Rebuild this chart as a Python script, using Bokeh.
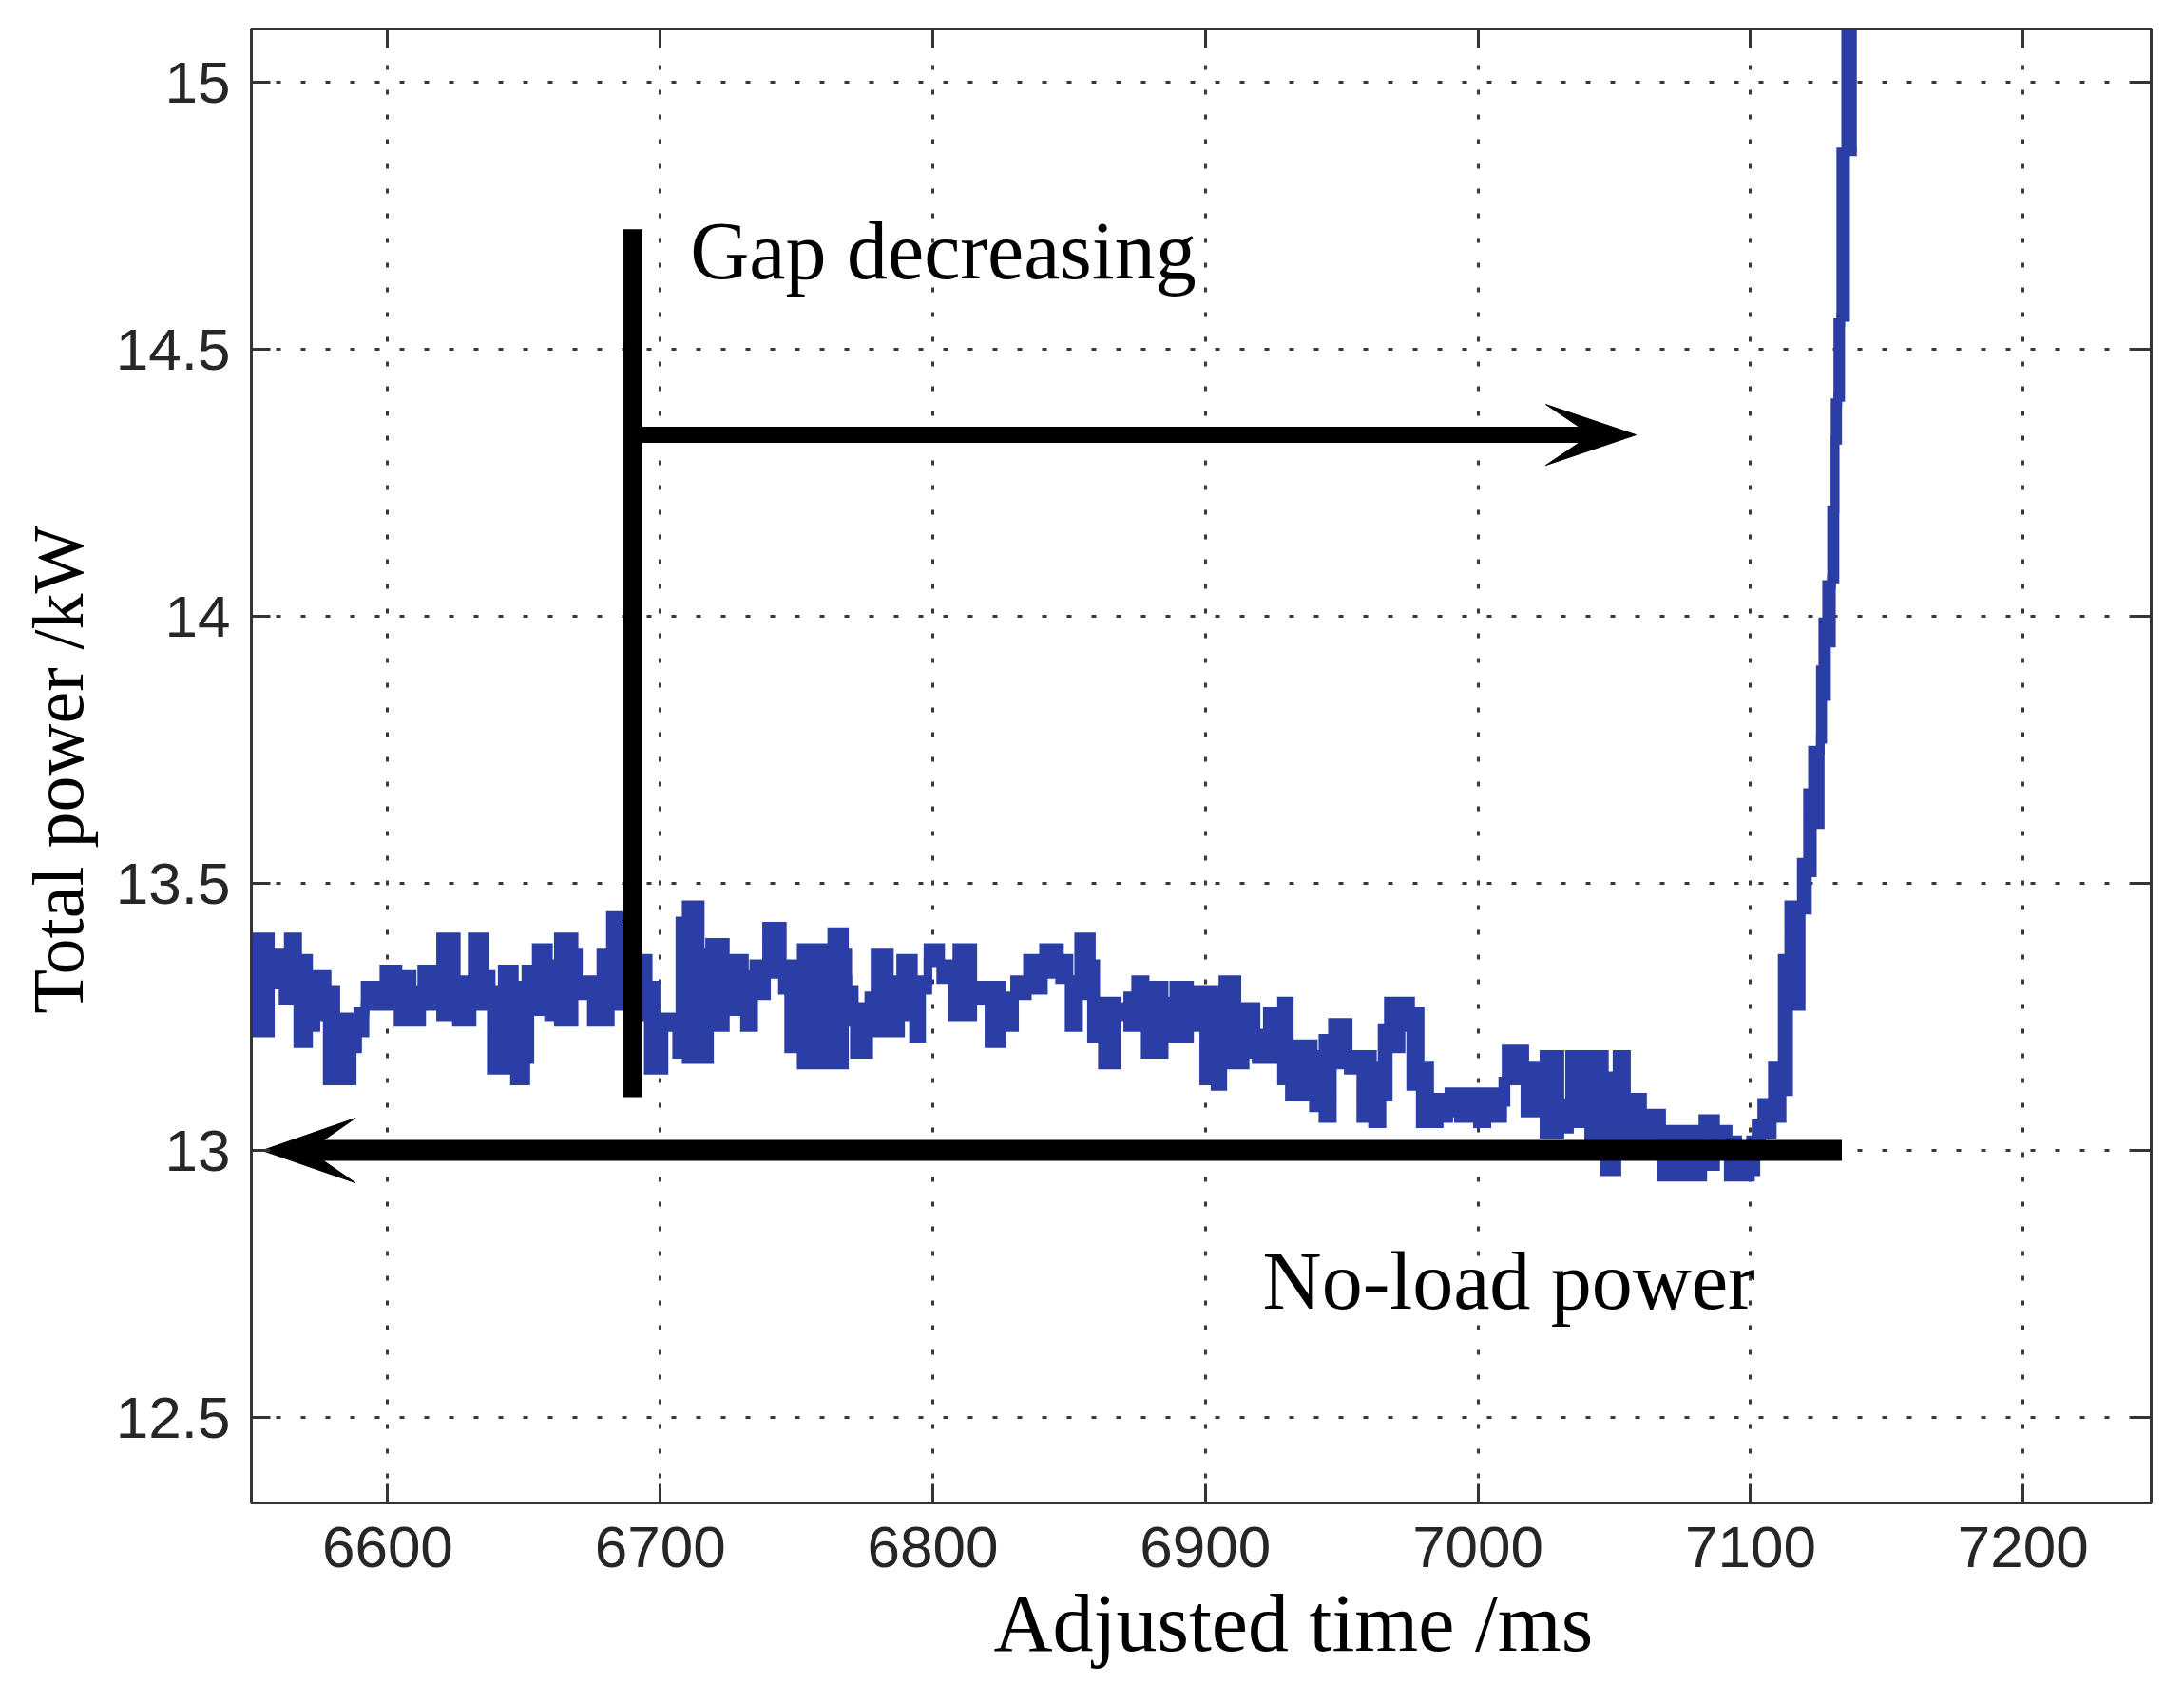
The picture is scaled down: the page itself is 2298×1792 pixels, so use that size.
import numpy as np
from bokeh.plotting import figure
from bokeh.models import Range1d, LinearAxis, FixedTicker, CustomJSTickFormatter, ColumnDataSource, Title
from bokeh.core.properties import value
from bokeh.embed import file_html
from bokeh.resources import INLINE

# ---------------- data ----------------
# adjusted time (ms) where each step of the trace starts
time_ms = [
    6548, 6557, 6561.6, 6563.5, 6567, 6571, 6573.7, 6577.8, 6581, 6587, 6589, 6591.7,
    6598.6, 6603.8, 6609, 6612.5, 6619.4, 6625.2, 6631, 6635.6, 6638, 6642, 6646.5,
    6650.7, 6652.2, 6654.5, 6659, 6662.6, 6668.4, 6670, 6674.7, 6678.2, 6681.7, 6684.6,
    6691.8, 6695.6, 6698.5, 6701.4, 6706, 6707.2, 6709.5, 6714.7, 6718.1, 6723.9,
    6726.8, 6730.9, 6734.3, 6739, 6744.8, 6747.1, 6751.7, 6758.2, 6762.9, 6767.6,
    6768.8, 6771.2, 6776.5, 6778.8, 6784.1, 6788.2, 6792.9, 6795.9, 6798.2, 6802.9,
    6807.1, 6808.8, 6814.7, 6820.6, 6825.3, 6830, 6834.7, 6840.6, 6846.5, 6850,
    6853.5, 6858.2, 6859.8, 6862.2, 6867.4, 6871.5, 6874.4, 6877.9, 6884.9, 6888.4,
    6894.2, 6899.4, 6903.5, 6906.4, 6911.6, 6914.6, 6918.6, 6922.7, 6927.9, 6930.8,
    6939.6, 6943.1, 6946.6, 6952.4, 6957, 6961.3, 6964.8, 6967.1, 6971.8, 6975.3,
    6978.8, 6982.3, 6985.8, 6989.3, 6992.8, 6999.8, 7003.3, 7009.1, 7010.3, 7017.2,
    7021.9, 7024.2, 7030.1, 7033.6, 7040.6, 7046.4, 7051, 7054.5, 7060.4, 7067.4,
    7075.5, 7082.5, 7087.2, 7091.8, 7095.3, 7100, 7102, 7104.1, 7108, 7111.6, 7114,
    7118.6, 7120.9, 7122.7, 7125.6, 7126.5, 7127.9, 7129.7, 7131, 7132, 7133.1, 7134.9,
    7139,
]
# upper edge of the noisy power trace (kW)
power_hi = [
    13.40, 13.37, 13.36, 13.40, 13.36, 13.28, 13.33, 13.30, 13.25, 13.25, 13.26, 13.31,
    13.34, 13.33, 13.30, 13.34, 13.40, 13.32, 13.40, 13.33, 13.30, 13.34, 13.31,
    13.34, 13.34, 13.38, 13.35, 13.40, 13.37, 13.32, 13.32, 13.37, 13.44, 13.42,
    13.36, 13.31, 13.24, 13.25, 13.24, 13.43, 13.46, 13.37, 13.39, 13.32,
    13.36, 13.33, 13.35, 13.42, 13.35, 13.35, 13.38, 13.38, 13.41, 13.37,
    13.30, 13.27, 13.29, 13.37, 13.32, 13.36, 13.32, 13.32, 13.38, 13.35,
    13.35, 13.38, 13.31, 13.31, 13.29, 13.32, 13.36, 13.38, 13.36, 13.32,
    13.40, 13.35, 13.27, 13.28, 13.27, 13.29, 13.32, 13.31, 13.28, 13.31,
    13.30, 13.30, 13.28, 13.32, 13.27, 13.27, 13.22, 13.26, 13.28, 13.20,
    13.18, 13.21, 13.24, 13.18, 13.18, 13.16, 13.23, 13.28, 13.28, 13.26,
    13.16, 13.10, 13.10, 13.11, 13.11, 13.11, 13.11, 13.13, 13.19, 13.16,
    13.09, 13.18, 13.09, 13.18, 13.18, 13.14, 13.18, 13.10, 13.07, 13.04,
    13.04, 13.06, 13.04, 13.02, 13.00, 13.02, 13.05, 13.09, 13.16, 13.36, 13.46,
    13.54, 13.67, 13.75, 13.90, 13.99, 14.06, 14.20, 14.40, 14.55, 14.87, 15.30,
    15.30,
]
# lower edge of the noisy power trace (kW)
power_lo = [
    13.22, 13.31, 13.28, 13.28, 13.20, 13.23, 13.25, 13.13, 13.13, 13.19, 13.22, 13.27,
    13.27, 13.24, 13.24, 13.27, 13.25, 13.24, 13.27, 13.28, 13.15, 13.15, 13.13,
    13.17, 13.26, 13.26, 13.25, 13.24, 13.29, 13.29, 13.24, 13.24, 13.31, 13.27,
    13.25, 13.15, 13.15, 13.23, 13.18, 13.18, 13.17, 13.17, 13.23, 13.26,
    13.26, 13.23, 13.29, 13.33, 13.30, 13.19, 13.16, 13.16, 13.16, 13.32,
    13.24, 13.18, 13.24, 13.22, 13.22, 13.25, 13.21, 13.30, 13.35, 13.32,
    13.25, 13.25, 13.28, 13.20, 13.23, 13.29, 13.30, 13.33, 13.32, 13.23,
    13.29, 13.21, 13.24, 13.16, 13.25, 13.23, 13.23, 13.18, 13.21, 13.21,
    13.23, 13.13, 13.12, 13.16, 13.16, 13.18, 13.17, 13.17, 13.13, 13.10,
    13.08, 13.06, 13.16, 13.15, 13.06, 13.05, 13.10, 13.19, 13.23, 13.12,
    13.05, 13.05, 13.06, 13.07, 13.06, 13.05, 13.06, 13.09, 13.13, 13.07,
    13.08, 13.03, 13.04, 13.05, 12.99, 12.96, 13.01, 13.00, 13.00, 12.95,
    12.95, 12.97, 12.99, 12.95, 12.95, 12.96, 12.99, 13.03, 13.06, 13.11, 13.27,
    13.45, 13.52, 13.61, 13.77, 13.85, 13.95, 14.07, 14.33, 14.41, 14.56, 14.87,
    14.87,
]

x_ticks = [6600, 6700, 6800, 6900, 7000, 7100, 7200]
y_ticks = [12.5, 13, 13.5, 14, 14.5, 15]
X_RANGE = (6550, 7247)
Y_RANGE = (12.34, 15.1)

x_label = "Adjusted time /ms"
y_label = "Total power /kW"

# annotations
gap_text = "Gap decreasing"
gap_text_x, gap_text_y = 6711, 14.685
gap_bar_x, gap_bar_y0, gap_bar_y1 = 6690, 13.10, 14.725
gap_arrow_y, gap_arrow_tip = 14.34, 7058
noload_text = "No-load power"
noload_text_x, noload_text_y = 6921, 12.755
noload_y, noload_x0, noload_tip = 13.0, 7133.5, 6554

# ---------------- figure ----------------
W, H = 2282, 1776
ML, MR, MT, MB = 263, 19, 30, 195
BLUE = "#2B3EA6"
AXC = "#333333"

p = figure(width=W, height=H, x_range=Range1d(*X_RANGE), y_range=Range1d(*Y_RANGE),
           output_backend="svg", toolbar_location=None,
           min_border_left=ML, min_border_right=MR, min_border_top=MT, min_border_bottom=MB)
p.background_fill_color = "white"
p.border_fill_color = "white"
p.outline_line_color = AXC
p.outline_line_width = 3

src = ColumnDataSource(dict(t=time_ms, hi=power_hi, lo=power_lo))
p.varea_step(x="t", y1="lo", y2="hi", step_mode="after", source=src, fill_color=BLUE)
p.step(x="t", y="hi", mode="after", source=src, line_color=BLUE, line_width=9, line_join="miter")
p.step(x="t", y="lo", mode="after", source=src, line_color=BLUE, line_width=9, line_join="miter")

# pixel scales for arrow heads
fw, fh = W - ML - MR, H - MT - MB
pxx = fw / (X_RANGE[1] - X_RANGE[0])
pxy = fh / (Y_RANGE[1] - Y_RANGE[0])

def head(tip_x, y, direction, length_px, width_px):
    L = length_px / pxx
    hw = width_px / 2 / pxy
    d = direction
    xs = [tip_x, tip_x - d * L, tip_x - d * 0.5 * L, tip_x - d * L]
    ys = [y, y + hw, y, y - hw]
    return xs, ys, tip_x - d * 0.5 * L

# vertical bar
p.segment(x0=[gap_bar_x], y0=[gap_bar_y0], x1=[gap_bar_x], y1=[gap_bar_y1],
          line_color="black", line_width=20, line_cap="butt")
# "gap decreasing" arrow
hx, hy, notch = head(gap_arrow_tip, gap_arrow_y, 1, 95, 64)
p.segment(x0=[gap_bar_x], y0=[gap_arrow_y], x1=[notch + 1], y1=[gap_arrow_y],
          line_color="black", line_width=17, line_cap="butt")
p.patch(hx, hy, fill_color="black", line_color="black", line_width=1)
# no-load arrow
hx2, hy2, notch2 = head(noload_tip, noload_y, -1, 98, 68)
p.segment(x0=[noload_x0], y0=[noload_y], x1=[notch2 - 1], y1=[noload_y],
          line_color="black", line_width=22, line_cap="butt")
p.patch(hx2, hy2, fill_color="black", line_color="black", line_width=1)

p.text(x=[gap_text_x], y=[gap_text_y], text=[gap_text], text_font=value("Liberation Serif"),
       text_font_size="86px", text_color="black", text_baseline="alphabetic", text_align="left")
p.text(x=[noload_text_x], y=[noload_text_y], text=[noload_text], text_font=value("Liberation Serif"),
       text_font_size="86px", text_color="black", text_baseline="alphabetic", text_align="left")

# axes
def style_axis(ax, show_labels):
    ax.axis_line_color = AXC
    ax.axis_line_width = 3
    ax.major_tick_in = 20
    ax.major_tick_out = 0
    ax.major_tick_line_width = 3
    ax.major_tick_line_color = AXC
    ax.minor_tick_line_color = None
    ax.major_label_text_font = "Liberation Sans"
    ax.major_label_text_color = "#262626"
    if show_labels:
        ax.major_label_text_font_size = "62px"
    else:
        ax.formatter = CustomJSTickFormatter(code="return ''")
        ax.major_label_text_font_size = "1px"
        ax.major_label_standoff = 0

xa = p.below[0]
ya = p.left[0]
xa.ticker = FixedTicker(ticks=x_ticks)
ya.ticker = FixedTicker(ticks=y_ticks)
ya.formatter = CustomJSTickFormatter(code="return String(tick)")
style_axis(xa, True)
style_axis(ya, True)
xa.major_label_standoff = 25
ya.major_label_standoff = 22

top = LinearAxis(ticker=FixedTicker(ticks=x_ticks))
style_axis(top, False)
p.add_layout(top, "above")
right = LinearAxis(ticker=FixedTicker(ticks=y_ticks))
style_axis(right, False)
p.add_layout(right, "right")

# axis titles, offset along the axis as in the original
p.add_layout(Title(text=x_label, align="left", offset=781, standoff=12,
                   text_font="Liberation Serif", text_font_size="86px",
                   text_font_style="normal", text_color="black"), "below")
p.add_layout(Title(text=y_label, align="left", offset=515, standoff=32,
                   text_font="Liberation Serif", text_font_size="76px",
                   text_font_style="normal", text_color="black"), "left")

p.xgrid.ticker = FixedTicker(ticks=x_ticks)
p.ygrid.ticker = FixedTicker(ticks=y_ticks)
p.grid.grid_line_color = "#222222"
p.grid.grid_line_width = 3
p.grid.grid_line_dash = "5 21"
p.grid.grid_line_alpha = 0.9

open("out.html", "w").write(file_html(p, INLINE))
